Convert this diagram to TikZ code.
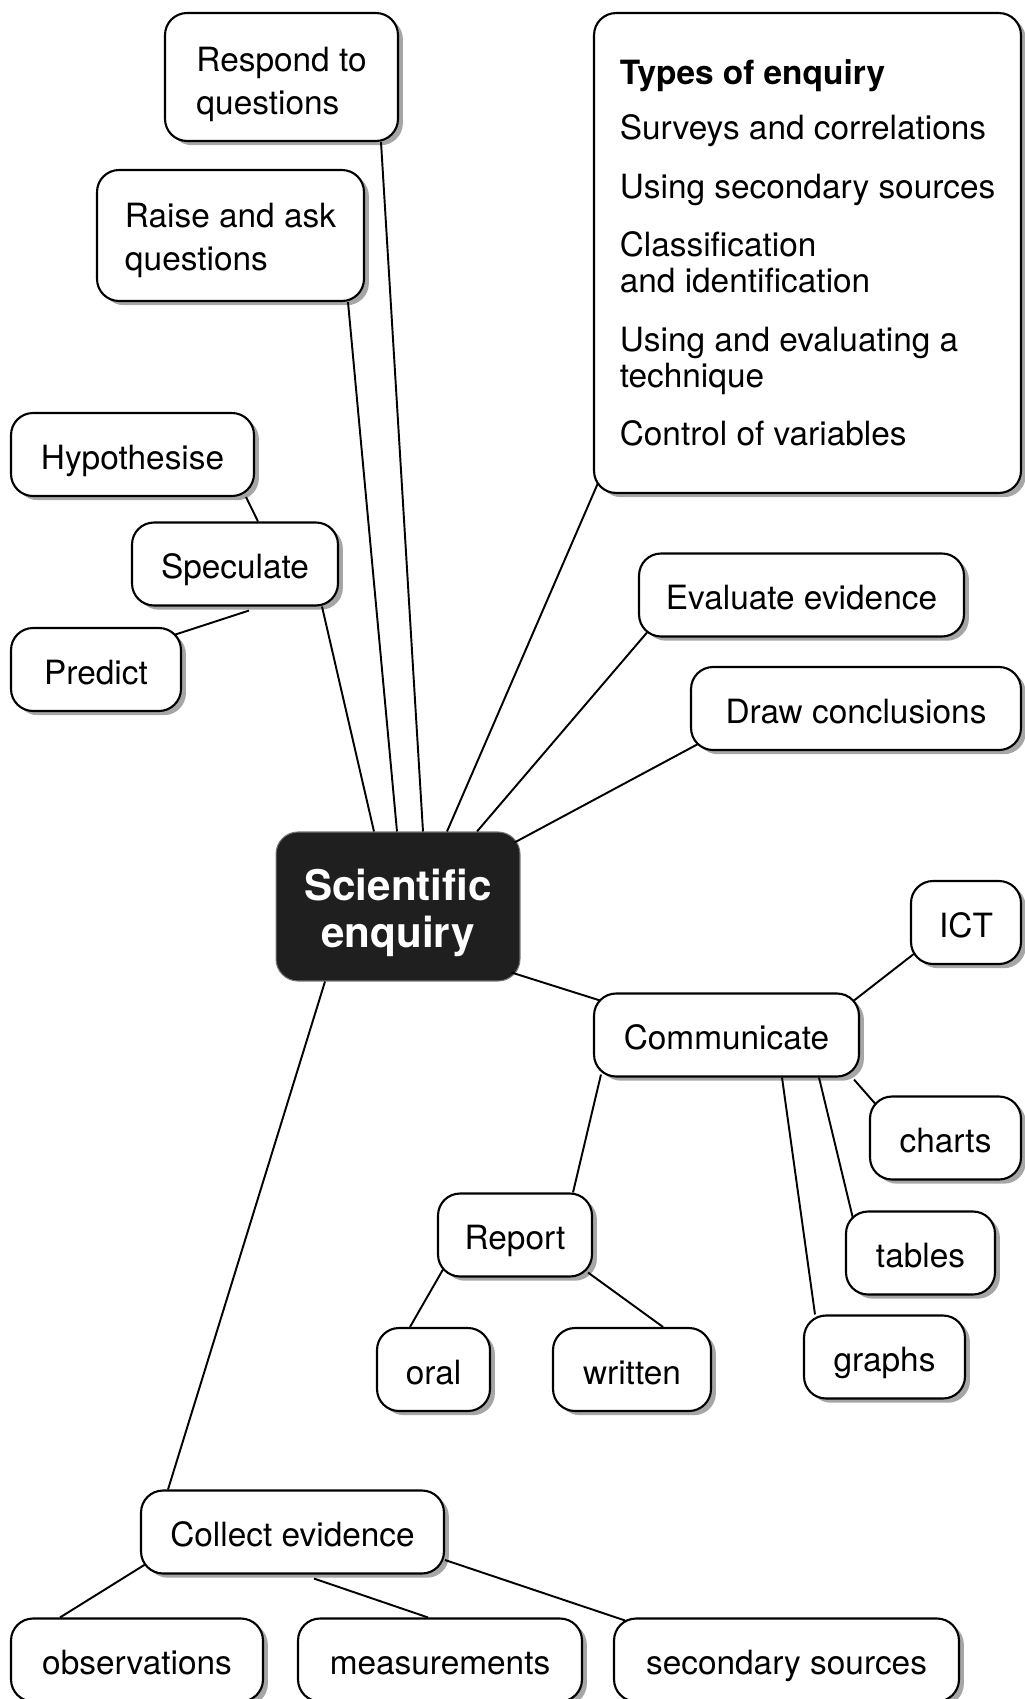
\documentclass[tikz,border=0pt]{standalone}
\usepackage{fontspec}
\setmainfont{TeX Gyre Heros}
\usepackage{tikz}
\usetikzlibrary{shadows}
\newcommand{\padtop}[1]{\rule{0pt}{#1}}
\tikzstyle{box} = [draw, rounded corners=0.44cm, line width=1.2pt, fill=white, inner xsep=0.2cm, minimum height=1.66cm, align=left, font=\fontsize{19}{24.5}\selectfont, drop shadow={shadow xshift=2.8pt, shadow yshift=-2.4pt, fill=black!35, opacity=1}]
\tikzstyle{leaf} = [box, text height=17pt, text depth=0pt]
\tikzstyle{hub} = [draw=black!55, rounded corners=0.44cm, line width=0.6pt, fill=black!88, text=white, align=center, minimum width=4.88cm, minimum height=2.98cm, font=\fontsize{24}{26.6}\selectfont\bfseries]
\tikzstyle{link} = [-, line width=1.1pt]

\begin{document}
\begin{tikzpicture}[x=0.02cm, y=-0.02cm]
            \useasboundingbox (0,0) rectangle (1024,1699);

            % centre
            \node[hub](se) at (398,906.5) {\padtop{24.9pt}Scientific\\enquiry};

            % upper left
            \node[box, minimum width=4.66cm, minimum height=2.56cm](respond) at (281.5,77) {\padtop{22.4pt}Respond to\\questions};
            \node[box, minimum width=5.34cm, minimum height=2.62cm](raise) at (230.5,235.5) {\padtop{20pt}Raise and ask\\questions};
            \node[leaf, minimum width=4.86cm](hypo) at (132.5,454.5) {Hypothesise};
            \node[leaf, minimum width=4.12cm](spec) at (235,564) {Speculate};
            \node[leaf, minimum width=3.40cm](predict) at (96,669.5) {Predict};

            % upper right
            \node[box, minimum width=8.54cm, minimum height=9.6cm, font=\fontsize{19}{20.4}\selectfont](types) at (807.5,253)
                {{\bfseries Types of enquiry}\\[11pt]
                 Surveys and correlations\\[12.9pt]
                 Using secondary sources\\[12.9pt]
                 Classification\\and identification\\[12.9pt]
                 Using and evaluating a\\technique\\[12.9pt]
                 Control of variables};
            \node[leaf, minimum width=6.50cm](evaluate) at (801.5,595) {Evaluate evidence};
            \node[leaf, minimum width=6.60cm](draw) at (856,708.5) {Draw conclusions};

            % communicate branch
            \node[leaf, minimum width=5.30cm](comm) at (726.5,1035) {Communicate};
            \node[leaf, minimum width=2.20cm](ict) at (966,922.5) {ICT};
            \node[leaf, minimum width=3.02cm](charts) at (945.5,1138) {charts};
            \node[leaf, minimum width=2.98cm](tables) at (920.5,1253) {tables};
            \node[leaf, minimum width=3.22cm](graphs) at (884.5,1357) {graphs};
            \node[leaf, minimum width=3.08cm](report) at (515,1235) {Report};
            \node[leaf, minimum width=2.26cm](oral) at (433.5,1369.5) {oral};
            \node[leaf, minimum width=3.16cm](written) at (632,1369.5) {written};

            % collect branch
            \node[leaf, minimum width=6.06cm](collect) at (292.5,1532) {Collect evidence};
            \node[leaf, minimum width=5.04cm](obs) at (137,1660) {observations};
            \node[leaf, minimum width=5.68cm](meas) at (440,1660) {measurements};
            \node[leaf, minimum width=6.90cm](sec) at (786.5,1660) {secondary sources};

            \draw[link]([shift={(99.5,0)}]respond.south) -- ([shift={(25,0)}]se.north);
            \draw[link]([shift={(117.5,0)}]raise.south) -- ([shift={(-1,0)}]se.north);
            \draw[link]([shift={(87,0)}]spec.south) -- ([shift={(-24,0)}]se.north);
            \draw[link]([shift={(113.5,0)}]hypo.south) -- ([shift={(23,0)}]spec.north);
            \draw[link]([shift={(-8,8)}]predict.north east) -- ([shift={(14,4)}]spec.south);
            \draw[link]([shift={(5,-11)}]types.south west) -- ([shift={(49,0)}]se.north);
            \draw[link]([shift={(9,-5)}]evaluate.south west) -- ([shift={(79,0)}]se.north);
            \draw[link]([shift={(8,-7)}]draw.south west) -- ([shift={(-6,11)}]se.north east);

            \draw[link]([shift={(-9,-9)}]se.south east) -- ([shift={(7,8)}]comm.north west);
            \draw[link]([shift={(-73,0)}]se.south) -- ([shift={(-124.5,0)}]collect.north);

            \draw[link]([shift={(-6,8)}]comm.north east) -- ([shift={(5,-12)}]ict.south west);
            \draw[link]([shift={(-6,2)}]comm.south east) -- ([shift={(6,8)}]charts.north west);
            \draw[link]([shift={(92.5,0)}]comm.south) -- ([shift={(8,8)}]tables.north west);
            \draw[link]([shift={(55.5,0)}]comm.south) -- ([shift={(-69.5,0)}]graphs.north);
            \draw[link]([shift={(8,-3)}]comm.south west) -- ([shift={(58,0)}]report.north);
            \draw[link]([shift={(6,-8)}]report.south west) -- ([shift={(-23.5,0)}]oral.north);
            \draw[link]([shift={(-5,-5)}]report.south east) -- ([shift={(31,0)}]written.north);

            \draw[link]([shift={(5,-10)}]collect.south west) -- ([shift={(-77,0)}]obs.north);
            \draw[link]([shift={(21.5,4)}]collect.south) -- ([shift={(-12,0)}]meas.north);
            \draw[link]([shift={(0,28)}]collect.east) -- ([shift={(12,3)}]sec.north west);
\end{tikzpicture}
\end{document}
